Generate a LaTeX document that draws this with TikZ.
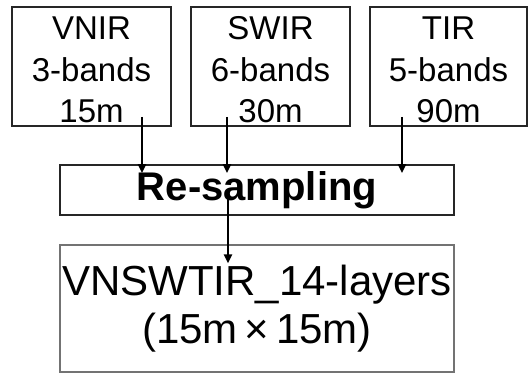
\documentclass[tikz,border=0pt]{standalone}
\usepackage{fontspec}
\setmainfont{Liberation Sans}
\usetikzlibrary{arrows.meta,calc}
\begin{document}
\begin{tikzpicture}[x=1pt,y=-1pt,
  srcbox/.style={draw=black!85, line width=1.7pt, minimum width=159pt, minimum height=119pt, inner sep=0pt},
  srctext/.style={inner sep=0pt, align=center, font=\fontsize{33}{41.5}\selectfont},
  resbox/.style={draw=black!85, line width=1.7pt, minimum width=394pt, minimum height=50pt, inner sep=0pt, font=\bfseries\fontsize{40}{44}\selectfont},
  outbox/.style={draw=black!55, line width=1.3pt, minimum width=394pt, minimum height=127pt, inner sep=0pt, align=center, font=\fontsize{42}{48}\selectfont},
  arr/.style={line width=2.4pt, -{Triangle[length=9pt,width=8pt]}}]
\useasboundingbox (0,0) rectangle (529,373);
\node[srcbox] (vnir) at (91.5,66.5) {};
\node[srcbox] (swir) at (270.5,66.5) {};
\node[srcbox, minimum width=157pt] (tir) at (448.5,66.5) {};
\node[srctext] (vnirt) at ($(vnir.center)+(0,3.5)$) {VNIR\\3-bands\\15m};
\node[srctext] (swirt) at ($(swir.center)+(0,3.5)$) {SWIR\\6-bands\\30m};
\node[srctext] (tirt) at ($(tir.center)+(0,3.5)$) {TIR\\5-bands\\90m};
\node[resbox] (res) at (257,190) {\raisebox{-1pt}{Re-sampling}};
\node[outbox] (out) at (257,308.5) {VNSWTIR\_14-layers\\(15m\,×\,15m)};
\coordinate (a1) at ($(vnir.south)+(50.5,-10)$);
\coordinate (a2) at ($(swir.south)+(-43.5,-10)$);
\coordinate (a3) at ($(tir.south)+(-46.5,-10)$);
\coordinate (a4) at ($(res.south)+(-29,-18)$);
\draw[arr] (a1) -- ($(a1 |- res.north)+(0,9)$);
\draw[arr] (a2) -- ($(a2 |- res.north)+(0,9)$);
\draw[arr] (a3) -- ($(a3 |- res.north)+(0,9)$);
\draw[arr] (a4) -- ($(a4 |- out.north)+(0,19)$);
\end{tikzpicture}
\end{document}
